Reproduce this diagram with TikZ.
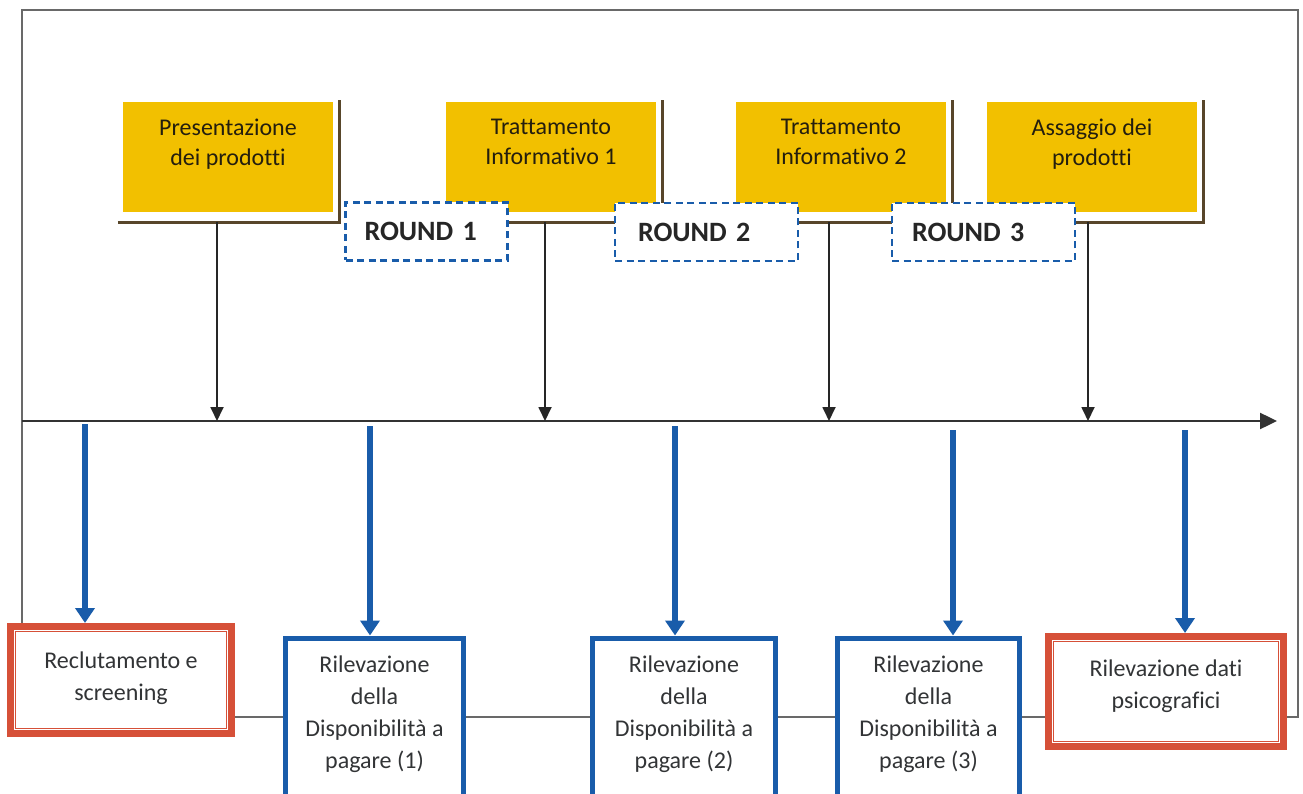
\documentclass[tikz,border=0pt]{standalone}
\usepackage{fontspec}
\setmainfont[Ligatures={NoCommon,NoContextual,NoRequired}]{Carlito}
\usetikzlibrary{arrows.meta}
\definecolor{yfill}{RGB}{242,192,0}
\definecolor{shad}{RGB}{88,70,42}
\definecolor{bblue}{RGB}{25,92,170}
\definecolor{rred}{RGB}{214,80,56}
\definecolor{framegray}{RGB}{105,105,105}
\definecolor{txtgray}{RGB}{50,52,54}
\definecolor{ytxt}{RGB}{36,30,14}
\newcommand{\txtbox}[4]{\parbox[c][#1][t]{#2}{\centering\vspace*{#3}#4\par}}
\begin{document}
\begin{tikzpicture}[x=1pt,y=-1pt,
  yellowbox/.style={fill=yfill, inner sep=0pt, minimum width=210pt, minimum height=110pt,
    text=ytxt, font=\fontsize{24}{30}\selectfont},
  shadowline/.style={draw=shad, line width=3pt},
  roundbox/.style={draw=bblue, fill=white, line width=2.2pt, dash pattern=on 7pt off 4.5pt,
    minimum height=58pt, align=left, text=black!85, font=\fontsize{28}{30}\selectfont\bfseries},
  bluebox/.style={draw=bblue, fill=white, line width=5pt, inner sep=0pt, anchor=north,
    text=txtgray, font=\fontsize{24}{32}\selectfont},
  redbox/.style={draw=rred, fill=white, line width=7pt, inner sep=0pt,
    text=txtgray, font=\fontsize{24}{32}\selectfont},
  redinner/.style={draw=rred, line width=1.8pt},
  framebox/.style={draw=framegray, line width=2.5pt},
  timeline/.style={draw=black!80, line width=2.4pt, -{Triangle[length=17pt,width=16pt]}},
  blackarrow/.style={draw=black!85, line width=1.8pt, -{Triangle[length=14pt,width=13pt]}},
  bluearrow/.style={draw=bblue, line width=6pt, -{Triangle[length=15pt,width=19pt]}}
]
\useasboundingbox (0,0) rectangle (1303,794);
\fill[white] (0,0) rectangle (1303,794);
\clip (0,0) rectangle (1303,794);

% outer frame
\draw[framebox] (22,10) rectangle (1298,717);

% timeline
\coordinate (t0) at (22,421);
\coordinate (t9) at (1277,421);
\draw[timeline] (t0) -- (t9);

% yellow boxes
\node[yellowbox] (y1) at (228,157) {\txtbox{110pt}{210pt}{17pt}{Presentazione\\dei prodotti}};
\node[yellowbox] (y2) at (551,157) {\txtbox{110pt}{210pt}{17pt}{Trattamento\\Informativo 1}};
\node[yellowbox] (y3) at (841,157) {\txtbox{110pt}{210pt}{17pt}{Trattamento\\Informativo 2}};
\node[yellowbox] (y4) at (1092,157) {\txtbox{110pt}{210pt}{17pt}{Assaggio dei\\prodotti}};
\foreach \n in {y1,y2,y3,y4}{
  \draw[shadowline] ([xshift=-5pt,yshift=-10pt]\n.south west) -- ([xshift=6pt,yshift=-10pt]\n.south east)
     -- ([xshift=6pt,yshift=2pt]\n.north east);
}

% round boxes
\node[roundbox, minimum width=162pt, inner xsep=19pt, text width=124pt] (r1) at (426.5,231.5) {ROUND 1};
\node[roundbox, minimum width=183pt, inner xsep=23pt, text width=137pt] (r2) at (706.5,232) {ROUND 2};
\node[roundbox, minimum width=183pt, inner xsep=20pt, text width=143pt] (r3) at (983.5,232) {ROUND 3};

% black arrows to timeline
\coordinate (a1) at (217,222);
\coordinate (a2) at (545,222);
\coordinate (a3) at (829,222);
\coordinate (a4) at (1088,222);
\draw[blackarrow] (a1) -- (a1 |- t0);
\draw[blackarrow] (a2) -- (a2 |- t0);
\draw[blackarrow] (a3) -- (a3 |- t0);
\draw[blackarrow] (a4) -- (a4 |- t0);

% bottom boxes
\node[redbox, minimum width=221pt, minimum height=107pt] (b1) at (121,680)
  {\txtbox{107pt}{221pt}{25pt}{Reclutamento e\\screening}};
\draw[redinner] ([xshift=8.5pt,yshift=8.5pt]b1.south west) rectangle ([xshift=-8.5pt,yshift=-8.5pt]b1.north east);

\node[bluebox, minimum width=178pt] (b2) at (374.5,635.5)
  {\txtbox{185pt}{178pt}{18pt}{Rilevazione\\della\\Disponibilità a\\pagare (1)}};
\node[bluebox, minimum width=183pt] (b3) at (684,635.5)
  {\txtbox{185pt}{183pt}{18pt}{Rilevazione\\della\\Disponibilità a\\pagare (2)}};
\node[bluebox, minimum width=182pt] (b4) at (928.5,635.5)
  {\txtbox{185pt}{182pt}{18pt}{Rilevazione\\della\\Disponibilità a\\pagare (3)}};

\node[redbox, minimum width=235pt, minimum height=110pt] (b5) at (1166,691.5)
  {\txtbox{110pt}{235pt}{23pt}{Rilevazione dati\\psicografici}};
\draw[redinner] ([xshift=8.5pt,yshift=8.5pt]b5.south west) rectangle ([xshift=-8.5pt,yshift=-8.5pt]b5.north east);

% blue arrows
\coordinate (u1) at (85,424);
\coordinate (u2) at (370,426);
\coordinate (u3) at (675,426);
\coordinate (u4) at (953,430);
\coordinate (u5) at (1185,430);
\draw[bluearrow] (u1) -- (u1 |- b1.north);
\draw[bluearrow] (u2) -- (u2 |- b2.north);
\draw[bluearrow] (u3) -- (u3 |- b3.north);
\draw[bluearrow] (u4) -- (u4 |- b4.north);
\draw[bluearrow] (u5) -- (u5 |- b5.north);
\end{tikzpicture}
\end{document}
